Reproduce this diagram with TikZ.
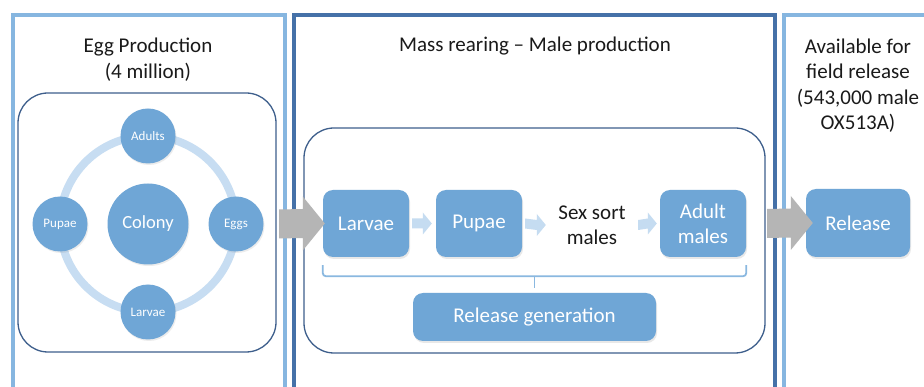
\documentclass[tikz,border=0pt]{standalone}
\usepackage{fontspec}
\setmainfont{Carlito}
\usetikzlibrary{calc,shadows}
\definecolor{boxblue}{HTML}{6FA6D6}
\definecolor{ringblue}{HTML}{C7DDF2}
\definecolor{lightborder}{HTML}{86B6E0}
\definecolor{darkborder}{HTML}{4571A8}
\definecolor{frameline}{HTML}{3E5F8C}
\definecolor{arrowgray}{HTML}{B5B5B5}
\definecolor{smallarrow}{HTML}{C5DCF1}
\definecolor{bracecol}{HTML}{8AB8E0}
\definecolor{txt}{HTML}{1A1A1A}
\tikzset{
  panellight/.style={draw=lightborder,line width=4pt},
  paneldark/.style={draw=darkborder,line width=4pt},
  frame/.style={draw=frameline,line width=1.3pt,rounded corners=30pt},
  stagebox/.style={fill=boxblue,rounded corners=10pt,text=white,font=\fontsize{21}{25}\selectfont,
    align=center,inner sep=0pt,drop shadow={opacity=0.18,shadow xshift=1pt,shadow yshift=-2pt}},
  smallcirc/.style={circle,fill=boxblue,minimum size=55pt,inner sep=0pt,text=white,
    font=\fontsize{13}{15}\selectfont,drop shadow={opacity=0.15,shadow xshift=1pt,shadow yshift=-1.5pt}},
  bigcirc/.style={circle,fill=boxblue,minimum size=81pt,inner sep=0pt,text=white,
    font=\fontsize{18.5}{21}\selectfont,drop shadow={opacity=0.15,shadow xshift=1pt,shadow yshift=-1.5pt}},
  title/.style={align=center,text=txt,font=\fontsize{21}{25.5}\selectfont,inner sep=0pt},
  ring/.style={draw=ringblue,line width=8pt},
  grayarrow/.style={fill=arrowgray},
  lightarrow/.style={fill=smallarrow},
  brace/.style={draw=bracecol,line width=1.8pt,rounded corners=3pt},
}
\newcommand\smallarr[2]{%
  \fill[lightarrow] ($(#1)+(0,-5)$) -- ($(#2)+(-9,-5)$) -- ($(#2)+(-9,-11)$) -- (#2)
    -- ($(#2)+(-9,11)$) -- ($(#2)+(-9,5)$) -- ($(#1)+(0,5)$) -- cycle;}
\newcommand\bigarr[2]{%
  \fill[grayarrow] ($(#1)+(0,-14.5)$) -- ($(#2)+(-22,-14.5)$) -- ($(#2)+(-22,-27)$) -- (#2)
    -- ($(#2)+(-22,27)$) -- ($(#2)+(-22,14.5)$) -- ($(#1)+(0,14.5)$) -- cycle;}
\begin{document}
\begin{tikzpicture}[x=1pt,y=-1pt]
\useasboundingbox (0,0) rectangle (924,387);
\fill[white] (0,0) rectangle (924,387);
\begin{scope}
\clip (0,0) rectangle (924,387);
% panels
\draw[panellight] (13,15) rectangle (285,420);
\draw[paneldark] (294,15) rectangle (775,420);
\draw[panellight] (784,15) rectangle (960,420);
% titles
\node[title] (t1) at (148,59.5) {Egg Production\\(4 million)};
\node[title] (t2) at (535,46.5) {Mass rearing -- Male production};
\node[title] (t3) at (858,85.5) {Available for\\field release\\(543,000 male\\OX513A)};
% frames
\draw[frame] (18,93) rectangle (276,352);
\draw[frame] (304,128) rectangle (765,353);
% ring
\coordinate (ringc) at (148,224);
\draw[ring] (ringc) circle (88);
\node[bigcirc] (colony) at (ringc) {Colony};
\node[smallcirc] (adults) at (148,136) {Adults};
\node[smallcirc] (eggs) at (236,224) {Eggs};
\node[smallcirc] (larvae1) at (148,312) {Larvae};
\node[smallcirc] (pupae1) at (60,224) {Pupae};
% process boxes
\node[stagebox,minimum width=86pt,minimum height=67pt] (larvae) at (366,223.5) {Larvae};
\node[stagebox,minimum width=86pt,minimum height=67pt] (pupae) at (479,223.5) {Pupae};
\node[align=center,text=txt,font=\fontsize{21}{25}\selectfont,inner sep=0pt,minimum width=86pt] (sexsort) at (592,225) {Sex sort\\males};
\node[stagebox,minimum width=86pt,minimum height=67pt,font=\fontsize{21}{25}\selectfont] (adultm) at (703,223.5) {Adult\\males};
\node[stagebox,minimum width=243pt,minimum height=48pt,font=\fontsize{21}{24}\selectfont] (relgen) at (534.5,317) {Release generation};
\node[stagebox,minimum width=104pt,minimum height=68pt] (release) at (858,223) {Release};
% small arrows
\coordinate (a1s) at ($(larvae.east)+(3,0)$);  \coordinate (a1e) at ($(pupae.west)+(-4,0)$);
\coordinate (a2s) at ($(pupae.east)+(3,0)$);   \coordinate (a2e) at ($(sexsort.west)+(-3,0)$);
\coordinate (a3s) at ($(sexsort.east)+(3,0)$); \coordinate (a3e) at ($(adultm.west)+(-3,0)$);
\smallarr{a1s}{a1e}
\smallarr{a2s}{a2e}
\smallarr{a3s}{a3e}
% brace
\coordinate (bl) at ($(larvae.south west)+(0,8)$);
\coordinate (br) at ($(adultm.south east)+(0,8)$);
\draw[brace] (bl) -- ($(bl)+(0,11)$) -- ($(br)+(0,11)$) -- (br);
\draw[brace] ($(relgen.north)+(0,-17)$) -- ($(relgen.north)+(0,-5)$);
% big gray arrows
\coordinate (g1s) at (279,224);
\coordinate (g1e) at ($(larvae.west)+(2,0)$);
\bigarr{g1s}{g1e}
\coordinate (g2s) at (767,223.5);
\coordinate (g2e) at ($(release.west)+(7,0)$);
\bigarr{g2s}{g2e}
\end{scope}
\end{tikzpicture}
\end{document}
